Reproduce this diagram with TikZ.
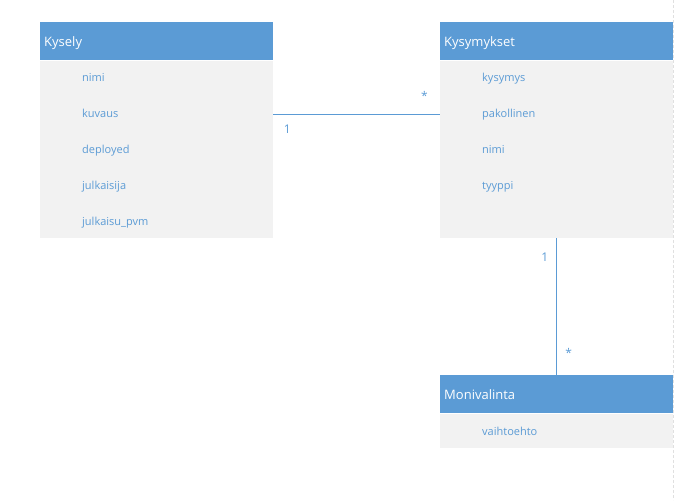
\documentclass[tikz,border=0pt]{standalone}
\usepackage{fontspec}
\setmainfont{Open Sans}
\usetikzlibrary{positioning}
\definecolor{hdblue}{HTML}{5B9BD5}
\definecolor{bodygray}{HTML}{F2F2F2}
\tikzset{
	header/.style={fill=hdblue, text=white, anchor=north west, minimum width=233pt, minimum height=38pt,
		text width=225pt, text depth=0pt, inner sep=4pt, align=left, font=\fontsize{13}{15}\selectfont},
	body/.style={fill=bodygray, anchor=north west, minimum width=233pt, inner sep=0pt},
	attr/.style={text=hdblue, anchor=base west, inner sep=0pt, font=\fontsize{11}{13}\selectfont},
	mult/.style={text=hdblue, inner sep=0pt, font=\fontsize{12}{14}\selectfont},
	link/.style={draw=hdblue, line width=1pt}
}
\begin{document}
\begin{tikzpicture}[x=1pt, y=-1pt]
	\def\LX{40}
	\def\RX{440}
	\def\AX{42}

	\useasboundingbox (0,0) rectangle (676,500);
	\draw [black!12, line width=1pt, dash pattern=on 3pt off 2pt] (673.5,0) -- (673.5,500);

	%表
	\node [header] (kysely) at (\LX,22) {Kysely};
	\node [body, minimum height=177pt] (kyselyB) at (\LX,61) {};
	\node [header] (kysymykset) at (\RX,22) {Kysymykset};
	\node [body, minimum height=177pt] (kysymyksetB) at (\RX,61) {};
	\node [header] (monivalinta) at (\RX,375) {Monivalinta};
	\node [body, minimum height=34pt] (monivalintaB) at (\RX,414) {};

	%属性
	\foreach \t [count=\i] in {nimi,kuvaus,deployed,julkaisija,julkaisu\_pvm}
		\node [attr] (ky-\i) at (\LX+\AX,45.5+36*\i) {\t};
	\foreach \t [count=\i] in {kysymys,pakollinen,nimi,tyyppi}
		\node [attr] (kk-\i) at (\RX+\AX,45.5+36*\i) {\t};
	\node [attr] (mv-1) at (\RX+\AX,435) {vaihtoehto};

	%连线
	\coordinate (lvl) at (0,114);
	\draw [link] (kyselyB.east |- lvl) coordinate (A) -- (kysymyksetB.west |- lvl) coordinate (B);
	\draw [link] (kysymyksetB.south) coordinate (C) -- (monivalinta.north) coordinate (D);
	\node [mult] (m1) at ([shift={(14,15)}]A) {1};
	\node [mult] (m2) at ([shift={(-15.5,-18.5)}]B) {*};
	\node [mult] (m3) at ([shift={(-12,19)}]C) {1};
	\node [mult] (m4) at ([shift={(12,-22)}]D) {*};

\end{tikzpicture}
\end{document}
